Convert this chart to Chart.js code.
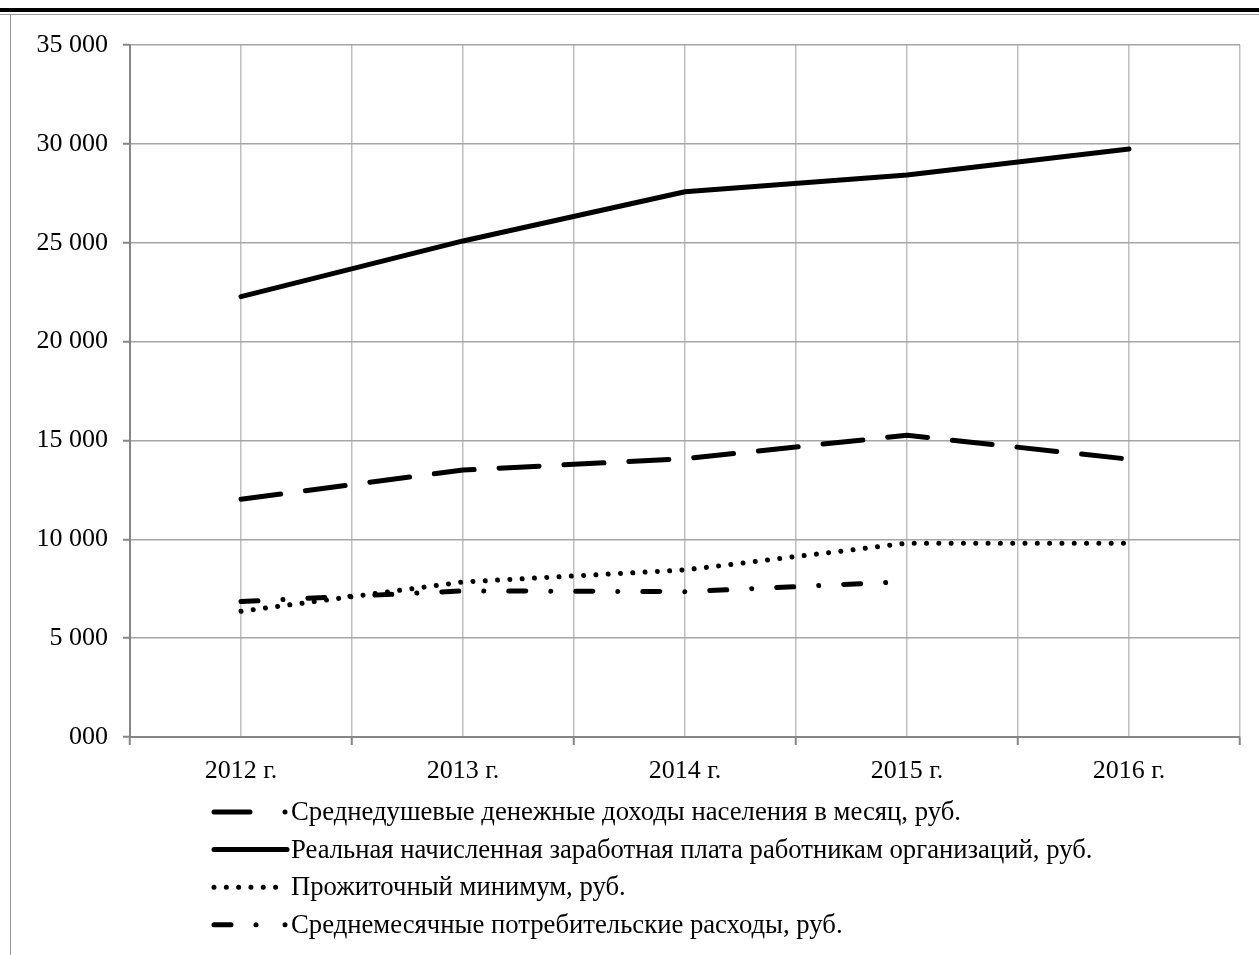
<!DOCTYPE html>
<html>
<head>
<meta charset="utf-8">
<script src="https://cdn.jsdelivr.net/npm/chart.js@4"></script>
<style>
html,body{margin:0;padding:0;background:#fff;}
#wrap{position:relative;width:1259px;height:955px;overflow:hidden;}
#c{position:absolute;left:0;top:0;width:1259px;height:955px;}
#topbar{position:absolute;left:0;top:8px;width:1259px;height:4px;background:#000;}
#topline{position:absolute;left:0;top:14px;width:1259px;height:1px;background:#9a9a9a;}
#leftline{position:absolute;left:10px;top:14px;width:1px;height:941px;background:#9a9a9a;}
</style>
</head>
<body>
<div id="wrap">
<canvas id="c" width="1259" height="955"></canvas>
<div id="topbar"></div>
<div id="topline"></div>
<div id="leftline"></div>
</div>
<script>
// ---- data ----
const categories = ['2012 г.', '2013 г.', '2014 г.', '2015 г.', '2016 г.'];
const seriesNames = [
  'Среднедушевые денежные доходы населения в месяц, руб.',
  'Реальная начисленная заработная плата работникам организаций, руб.',
  'Прожиточный минимум, руб.',
  'Среднемесячные потребительские расходы, руб.'
];
const incomePerCapita  = [12030, 13500, 14080, 15260, 14050];
const realWage         = [22270, 25090, 27580, 28420, 29740];
const subsistenceMin   = [6360, 7840, 8450, 9800, 9800];
const consumerSpending = [6850, 7390, 7350, 7860, null];
const yTickLabels = ['000', '5 000', '10 000', '15 000', '20 000', '25 000', '30 000', '35 000'];

const FONT = '"Liberation Serif", "Times New Roman", serif';

function toXY(arr) {
  return arr.map((v, i) => ({ x: i, y: v }));
}

const styles = [
  { borderDash: [40, 25], borderWidth: 5 },
  { borderDash: [], borderWidth: 5 },
  { borderDash: [0.01, 12.3], borderWidth: 5 },
  { borderDash: [17, 25, 0.01, 25], borderWidth: 5 }
];
const legendDash = [
  [36, 35, 0.01, 40],
  [],
  [0.01, 12.3],
  [17, 25, 0.01, 29, 0.01, 40]
];
const legendEnd = [290, 287, 283, 290];
const seriesData = [incomePerCapita, realWage, subsistenceMin, consumerSpending];

const datasets = seriesData.map((arr, i) => ({
  label: seriesNames[i],
  data: toXY(arr),
  borderColor: '#000',
  backgroundColor: '#000',
  borderWidth: styles[i].borderWidth,
  borderDash: styles[i].borderDash,
  borderCapStyle: 'round',
  borderJoinStyle: 'round',
  pointRadius: 0,
  pointHoverRadius: 0,
  tension: 0,
  fill: false,
  spanGaps: false
}));

const legendPlugin = {
  id: 'customLegend',
  afterDraw(chart) {
    const ctx = chart.ctx;
    const x0 = 214, tx = 291;
    const y0 = 812, dy = 37.6;
    ctx.save();
    chart.data.datasets.forEach((ds, i) => {
      const y = y0 + i * dy;
      ctx.beginPath();
      ctx.strokeStyle = ds.borderColor;
      ctx.lineWidth = ds.borderWidth;
      ctx.lineCap = 'round';
      ctx.setLineDash(legendDash[i]);
      ctx.moveTo(x0, y);
      ctx.lineTo(legendEnd[i], y);
      ctx.stroke();
      ctx.setLineDash([]);
      ctx.fillStyle = '#000';
      ctx.font = '26.7px ' + FONT;
      ctx.textAlign = 'left';
      ctx.textBaseline = 'middle';
      ctx.fillText(ds.label, tx, y + 1);
    });
    ctx.restore();
  }
};

new Chart(document.getElementById('c'), {
  type: 'line',
  data: { datasets },
  plugins: [legendPlugin],
  options: {
    responsive: false,
    animation: false,
    devicePixelRatio: 1,
    layout: { padding: { left: 0, right: 19, top: 45, bottom: 168 } },
    plugins: {
      legend: { display: false },
      tooltip: { enabled: false }
    },
    scales: {
      x: {
        type: 'linear',
        min: -0.5,
        max: 4.5,
        afterBuildTicks(scale) {
          const t = [];
          for (let v = -0.5; v <= 4.5001; v += 0.5) t.push({ value: Math.round(v * 2) / 2 });
          scale.ticks = t;
        },
        afterFit(scale) { scale.height = 50; },
        ticks: {
          autoSkip: false,
          maxRotation: 0,
          minRotation: 0,
          padding: 11,
          color: '#000',
          font: { family: FONT, size: 26 },
          callback(v) {
            return Number.isInteger(v) ? categories[v] : '';
          }
        },
        grid: {
          color: '#bfbfbf',
          lineWidth: 1.5,
          tickLength: 8,
          tickColor(ctx) {
            return ctx.tick && Number.isInteger(ctx.tick.value) ? 'rgba(0,0,0,0)' : '#868686';
          },
          tickWidth: 2
        },
        border: { color: '#868686', width: 2 }
      },
      y: {
        min: 0,
        max: 35000,
        afterFit(scale) { scale.width = 130; },
        ticks: {
          stepSize: 5000,
          padding: 15,
          color: '#000',
          font: { family: FONT, size: 26 },
          callback(v, idx) { return yTickLabels[idx]; }
        },
        grid: {
          color: '#a6a6a6',
          lineWidth: 1.5,
          tickLength: 7,
          tickColor: '#868686',
          tickWidth: 2
        },
        border: { color: '#868686', width: 2 }
      }
    }
  }
});
</script>
</body>
</html>
